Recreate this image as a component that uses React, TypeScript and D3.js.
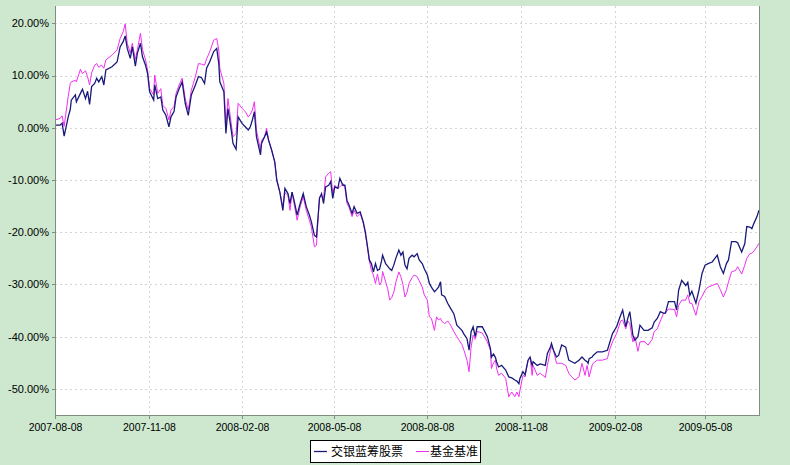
import React from "react";
import * as d3 from "d3";

const dates: string[] = [
  "2007-08-08","2007-08-13","2007-08-15","2007-08-17","2007-08-21","2007-08-23","2007-08-24","2007-08-28","2007-08-29","2007-09-02",
  "2007-09-04","2007-09-07","2007-09-09","2007-09-11","2007-09-13","2007-09-16","2007-09-18","2007-09-20","2007-09-23","2007-09-25",
  "2007-09-27","2007-10-03","2007-10-08","2007-10-11","2007-10-14","2007-10-16","2007-10-18","2007-10-21","2007-10-23","2007-10-26",
  "2007-10-28","2007-10-31","2007-11-02","2007-11-05","2007-11-07","2007-11-09","2007-11-13","2007-11-14","2007-11-17","2007-11-20",
  "2007-11-22","2007-11-25","2007-11-28","2007-11-30","2007-12-03","2007-12-05","2007-12-08","2007-12-11","2007-12-14","2007-12-17",
  "2007-12-20","2007-12-24","2007-12-27","2007-12-30","2008-01-02","2008-01-04","2008-01-07","2008-01-11","2008-01-14","2008-01-16",
  "2008-01-17","2008-01-21","2008-01-23","2008-01-25","2008-01-28","2008-01-30","2008-02-02","2008-02-04","2008-02-08","2008-02-11",
  "2008-02-14","2008-02-16","2008-02-18","2008-02-20","2008-02-22","2008-02-26","2008-02-27","2008-03-01","2008-03-03","2008-03-05",
  "2008-03-08","2008-03-11","2008-03-13","2008-03-16","2008-03-19","2008-03-21","2008-03-24","2008-03-26","2008-03-28","2008-03-30",
  "2008-04-02","2008-04-05","2008-04-08","2008-04-11","2008-04-14","2008-04-16","2008-04-19","2008-04-21","2008-04-24","2008-04-26",
  "2008-04-28","2008-04-30","2008-05-03","2008-05-05","2008-05-07","2008-05-09","2008-05-12","2008-05-14","2008-05-17","2008-05-19",
  "2008-05-21","2008-05-23","2008-05-26","2008-05-28","2008-05-31","2008-06-03","2008-06-06","2008-06-08","2008-06-10","2008-06-12",
  "2008-06-14","2008-06-16","2008-06-18","2008-06-20","2008-06-22","2008-06-24","2008-06-25","2008-06-28","2008-06-30","2008-07-02",
  "2008-07-04","2008-07-06","2008-07-08","2008-07-11","2008-07-13","2008-07-15","2008-07-17","2008-07-19","2008-07-21","2008-07-24",
  "2008-07-26","2008-07-29","2008-07-31","2008-08-03","2008-08-05","2008-08-08","2008-08-10","2008-08-12","2008-08-15","2008-08-17",
  "2008-08-19","2008-08-21","2008-08-22","2008-08-25","2008-08-28","2008-08-30","2008-09-03","2008-09-06","2008-09-11","2008-09-13",
  "2008-09-16","2008-09-18","2008-09-20","2008-09-22","2008-09-24","2008-09-26","2008-10-01","2008-10-06","2008-10-09","2008-10-10",
  "2008-10-12","2008-10-14","2008-10-15","2008-10-17","2008-10-20","2008-10-24","2008-10-27","2008-10-30","2008-11-02","2008-11-04",
  "2008-11-06","2008-11-07","2008-11-10","2008-11-12","2008-11-15","2008-11-17","2008-11-19","2008-11-20","2008-11-24","2008-11-27",
  "2008-12-02","2008-12-04","2008-12-07","2008-12-08","2008-12-10","2008-12-13","2008-12-15","2008-12-18","2008-12-22","2008-12-25",
  "2008-12-28","2008-12-31","2009-01-04","2009-01-07","2009-01-10","2009-01-12","2009-01-13","2009-01-14","2009-01-17","2009-01-18",
  "2009-01-22","2009-01-27","2009-02-01","2009-02-03","2009-02-06","2009-02-10","2009-02-14","2009-02-16","2009-02-19","2009-02-21",
  "2009-02-23","2009-02-26","2009-02-28","2009-03-03","2009-03-05","2009-03-09","2009-03-13","2009-03-17","2009-03-19","2009-03-22",
  "2009-03-25","2009-03-28","2009-03-30","2009-04-02","2009-04-08","2009-04-10","2009-04-12","2009-04-15","2009-04-19","2009-04-21",
  "2009-04-23","2009-04-25","2009-04-29","2009-05-02","2009-05-05","2009-05-08","2009-05-11","2009-05-15","2009-05-20","2009-05-23",
  "2009-05-26","2009-05-29","2009-05-31","2009-06-03","2009-06-07","2009-06-09","2009-06-13","2009-06-16","2009-06-18","2009-06-21",
  "2009-06-23","2009-06-25","2009-06-28","2009-06-30"
];

const fund: number[] = [
  0.5,0.5,0.9,-1.6,2.1,3.5,5.3,6.3,5.0,6.6,
  7.4,5.6,7.0,4.5,7.9,8.5,9.5,8.8,9.8,8.2,
  11.1,11.7,12.6,15.5,16.5,17.6,15.2,13.3,15.5,11.8,
  14.3,16.2,13.6,12.0,10.4,6.9,5.3,8.2,5.6,5.9,
  3.4,2.4,0.2,2.1,3.1,5.9,7.5,8.8,4.7,2.4,
  6.3,8.2,9.8,9.6,8.5,11.4,12.6,14.6,15.2,12.3,
  8.8,6.9,-1.1,3.7,-0.1,-3.0,-4.1,2.1,0.8,0.2,
  -0.4,0.2,1.5,3.1,-1.7,-5.2,-3.0,-1.7,-0.8,-2.4,
  -4.3,-6.5,-10.0,-12.3,-15.8,-11.6,-12.6,-14.5,-12.3,-13.9,
  -16.7,-14.5,-12.6,-15.1,-16.7,-18.0,-20.6,-20.9,-13.5,-12.6,
  -14.5,-11.3,-11.0,-10.3,-13.5,-11.3,-11.6,-9.7,-11.0,-11.0,
  -13.9,-14.8,-16.4,-15.1,-16.4,-16.1,-18.0,-19.9,-22.5,-25.3,
  -26.0,-27.6,-26.0,-27.3,-27.1,-25.5,-24.4,-26.0,-26.5,-27.0,
  -27.3,-26.3,-25.0,-23.4,-24.4,-23.8,-26.3,-27.0,-25.0,-24.4,
  -24.7,-24.1,-25.3,-26.0,-27.0,-28.2,-29.8,-30.5,-31.4,-31.0,
  -30.5,-29.5,-32.0,-32.3,-33.6,-34.3,-35.6,-37.8,-38.8,-39.5,
  -40.4,-42.6,-39.1,-38.1,-40.0,-38.1,-38.1,-40.0,-42.3,-43.9,
  -43.3,-44.0,-44.8,-45.8,-45.5,-46.4,-47.7,-47.9,-48.3,-48.5,
  -49.0,-48.0,-46.7,-47.3,-44.5,-43.9,-45.5,-44.8,-45.5,-45.2,
  -45.5,-43.2,-42.0,-41.3,-42.6,-43.9,-43.6,-41.6,-42.0,-44.5,
  -44.8,-45.1,-44.5,-43.9,-44.5,-44.8,-45.1,-44.2,-43.9,-43.6,
  -42.9,-42.9,-42.6,-41.3,-39.4,-38.1,-35.9,-34.9,-38.1,-36.5,
  -35.2,-39.7,-40.7,-40.0,-37.8,-38.8,-38.8,-38.3,-37.2,-36.5,
  -35.2,-35.5,-35.5,-33.3,-33.3,-34.9,-31.1,-29.2,-30.2,-29.6,
  -32.1,-31.3,-33.6,-31.1,-27.9,-26.3,-26.0,-25.7,-24.4,-26.6,
  -27.9,-26.0,-25.3,-21.8,-21.8,-22.0,-23.8,-22.2,-18.9,-19.0,
  -19.3,-18.3,-17.0,-15.8
];

const bench: number[] = [
  1.5,1.8,2.3,0.3,6.0,8.5,8.8,9.1,8.8,11.2,
  10.4,10.9,9.8,8.2,10.5,12.0,12.3,11.6,12.0,11.4,
  13.0,13.9,14.9,17.1,18.4,19.9,16.2,14.3,16.2,13.1,
  15.0,18.1,15.0,13.0,11.1,7.5,6.3,10.1,6.6,7.5,
  4.3,3.7,1.5,3.4,4.1,6.6,8.2,9.5,5.6,3.4,
  7.2,9.8,12.3,12.2,12.0,13.2,14.5,16.8,17.1,14.9,
  11.4,8.5,0.2,5.6,1.1,-1.7,-1.1,4.7,3.7,3.1,
  2.1,2.6,3.4,5.0,-0.4,-4.3,-2.4,-1.7,-0.1,-2.4,
  -4.3,-6.5,-10.0,-12.3,-15.2,-12.4,-13.0,-15.8,-12.3,-14.5,
  -17.7,-15.1,-13.2,-15.8,-17.7,-19.0,-22.8,-22.5,-13.2,-13.0,
  -13.5,-9.4,-8.7,-8.4,-12.6,-11.0,-11.6,-11.3,-10.7,-11.5,
  -14.5,-15.2,-17.0,-15.8,-17.0,-16.4,-18.3,-20.2,-22.8,-25.5,
  -27.3,-28.2,-29.8,-28.0,-30.1,-29.5,-27.5,-29.5,-30.8,-33.0,
  -32.5,-31.5,-29.6,-27.6,-28.5,-30.0,-32.4,-31.5,-29.8,-28.7,
  -28.2,-28.5,-29.3,-30.5,-32.0,-33.0,-36.2,-36.5,-38.8,-36.2,
  -36.8,-36.5,-37.0,-37.5,-37.0,-37.5,-39.0,-40.0,-41.5,-42.6,
  -44.5,-46.7,-42.0,-39.7,-40.5,-39.0,-39.3,-41.0,-42.6,-46.1,
  -45.0,-44.5,-46.0,-47.4,-47.0,-48.0,-51.5,-50.6,-51.5,-50.6,
  -51.5,-50.3,-47.4,-47.7,-44.5,-43.9,-47.4,-45.5,-47.4,-47.0,
  -47.8,-45.5,-42.6,-42.0,-42.6,-45.1,-45.1,-45.1,-45.5,-47.0,
  -47.7,-48.3,-47.7,-45.1,-47.4,-45.5,-46.5,-47.7,-45.5,-45.1,
  -44.5,-44.5,-44.2,-42.6,-41.0,-39.4,-37.0,-36.8,-38.5,-37.0,
  -37.5,-41.0,-40.0,-42.8,-41.0,-40.9,-41.6,-40.5,-39.0,-38.5,
  -37.0,-35.6,-35.5,-34.7,-34.8,-36.2,-34.0,-33.0,-33.0,-32.0,
  -33.6,-33.6,-35.9,-33.3,-32.3,-31.1,-30.5,-30.2,-29.8,-31.0,
  -32.4,-31.0,-29.5,-27.6,-27.3,-26.6,-28.0,-26.3,-25.0,-24.1,
  -24.0,-23.6,-22.8,-22.1
];

const xTickLabels: string[] = [
  "2007-08-08","2007-11-08","2008-02-08","2008-05-08",
  "2008-08-08","2008-11-08","2009-02-08","2009-05-08"
];
const yTicks: number[] = [20, 10, 0, -10, -20, -30, -40, -50];
const xDomain: string[] = ["2007-08-08", "2009-06-30"];
const yDomain: number[] = [-55, 23.33];

const seriesNames: string[] = ["交银蓝筹股票", "基金基准"];

const W = 790;
const H = 465;
const plot = { left: 55, right: 759, top: 6, bottom: 415 };

export default function App() {
  const parse = d3.timeParse("%Y-%m-%d");
  const x = d3
    .scaleTime()
    .domain(xDomain.map((d) => parse(d) as Date))
    .range([plot.left, plot.right]);
  const y = d3.scaleLinear().domain(yDomain).range([plot.bottom, plot.top]);

  const parsed = dates.map((d) => parse(d) as Date);
  const line = d3
    .line<number>()
    .x((_, i) => x(parsed[i]))
    .y((v) => y(v));

  const fundPath = line(fund) || "";
  const benchPath = line(bench) || "";

  const labelFont = "'Liberation Sans', Arial, sans-serif";
  const cjkFont = "'Noto Sans CJK SC', sans-serif";

  return (
    <svg
      width={W}
      height={H}
      style={{ position: "absolute", left: 0, top: 0, display: "block" }}
    >
      <rect x={0} y={0} width={W} height={H} fill="#cde8cf" />
      <rect
        x={plot.left}
        y={plot.top}
        width={plot.right - plot.left}
        height={plot.bottom - plot.top}
        fill="#ffffff"
      />
      {/* horizontal grid */}
      {yTicks.map((t) => (
        <line
          key={"hg" + t}
          x1={plot.left}
          x2={plot.right}
          y1={Math.round(y(t)) + 0.5}
          y2={Math.round(y(t)) + 0.5}
          stroke="#d4d4d4"
          strokeDasharray="2,3"
        />
      ))}
      {/* vertical grid */}
      {xTickLabels.slice(1).map((t) => {
        const xx = Math.round(x(parse(t) as Date)) + 0.5;
        return (
          <line
            key={"vg" + t}
            x1={xx}
            x2={xx}
            y1={plot.top}
            y2={plot.bottom}
            stroke="#d4d4d4"
            strokeDasharray="2,3"
          />
        );
      })}
      {/* series */}
      <path d={benchPath} fill="none" stroke="#f030f0" strokeWidth={1} />
      <path d={fundPath} fill="none" stroke="#1a1a7a" strokeWidth={1.3} />
      {/* axes */}
      <line
        x1={plot.left + 0.5}
        x2={plot.left + 0.5}
        y1={plot.top}
        y2={plot.bottom}
        stroke="#7f8f7f"
      />
      <line
        x1={plot.left}
        x2={plot.right}
        y1={plot.bottom + 0.5}
        y2={plot.bottom + 0.5}
        stroke="#7f8f7f"
      />
      <line
        x1={plot.right + 0.5}
        x2={plot.right + 0.5}
        y1={plot.top}
        y2={plot.bottom + 1}
        stroke="#7f8f7f"
      />
      {/* y ticks & labels */}
      {yTicks.map((t) => (
        <g key={"yl" + t}>
          <line
            x1={plot.left - 3}
            x2={plot.left}
            y1={Math.round(y(t)) + 0.5}
            y2={Math.round(y(t)) + 0.5}
            stroke="#7f8f7f"
          />
          <text
            x={49}
            y={y(t)}
            dy="0.35em"
            textAnchor="end"
            fontFamily={labelFont}
            fontSize={11}
            fill="#000"
          >
            {t.toFixed(2) + "%"}
          </text>
        </g>
      ))}
      {/* x ticks & labels */}
      {xTickLabels.map((t) => {
        const xx = Math.round(x(parse(t) as Date)) + 0.5;
        return (
          <g key={"xl" + t}>
            <line
              x1={xx}
              x2={xx}
              y1={plot.bottom}
              y2={plot.bottom + 4}
              stroke="#7f8f7f"
            />
            <text
              x={xx}
              y={431}
              textAnchor="middle"
              fontFamily={labelFont}
              fontSize={10.5}
              fill="#000"
            >
              {t}
            </text>
          </g>
        );
      })}
      {/* legend */}
      <rect x={310.5} y={440.5} width={170} height={22} fill="#fff" stroke="#000" />
      <line x1={314} x2={327} y1={451.5} y2={451.5} stroke="#1a1a7a" strokeWidth={1.3} />
      <text x={331} y={451.5} dy="0.35em" fontFamily={cjkFont} fontSize={12} fill="#000">
        {seriesNames[0]}
      </text>
      <line x1={416} x2={429} y1={451.5} y2={451.5} stroke="#f030f0" strokeWidth={1} />
      <text x={430} y={451.5} dy="0.35em" fontFamily={cjkFont} fontSize={12} fill="#000">
        {seriesNames[1]}
      </text>
    </svg>
  );
}
